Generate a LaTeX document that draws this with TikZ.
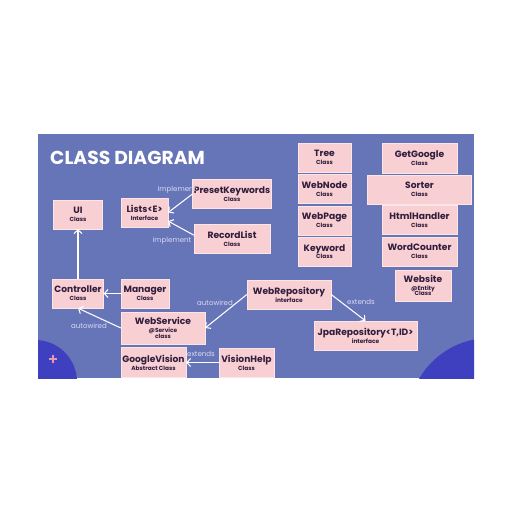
\documentclass[tikz,border=0pt]{standalone}
\usepackage{fontspec}
\setmainfont{Poppins}
\usetikzlibrary{arrows.meta,positioning}

\definecolor{slide}{RGB}{102,116,184}
\definecolor{deep}{RGB}{62,64,192}
\definecolor{boxpink}{RGB}{248,207,210}
\definecolor{ink}{RGB}{48,28,60}
\definecolor{note}{RGB}{218,220,242}
\definecolor{plusmark}{RGB}{232,150,180}
\newcommand{\subf}{\fontsize{5}{6.8}\selectfont}

\begin{document}
\begin{tikzpicture}[
  x=0.03cm, y=-0.03cm,
  font=\bfseries\fontsize{7.8}{6.6}\selectfont,
  node distance=0.06cm,
  cls/.style={fill=boxpink, draw=white!45!boxpink, line width=0.3pt, text=ink, align=center, inner sep=1pt, minimum height=0.87cm},
  lbl/.style={font=\fontsize{6}{7}\selectfont, text=note, inner sep=0pt},
  arrow/.style={-{Straight Barb[length=1.1mm,width=2.4mm]}, draw=white, line width=0.9pt}
]
\useasboundingbox (0,0) rectangle (512,512);
\fill[white] (0,0) rectangle (512,512);

% slide and corner circles
\fill[slide] (38,134) rectangle (474,378);
\begin{scope}
  \clip (38,134) rectangle (474,378);
  \fill[deep] (35,382) circle (42);
  \fill[deep] (490,420) circle (82);
\end{scope}
\draw[plusmark, line width=1pt] (49,359) -- (57,359) (53,355) -- (53,363);

\node[anchor=base west, text=white, font=\bfseries\fontsize{16}{16}\selectfont, inner sep=0pt] (title) at (50,165) {CLASS DIAGRAM};

% left part
\node[cls, minimum width=1.47cm] (ui) at (78,214.5) {UI\\\subf Class};
\node[cls, minimum width=1.41cm] (lists) at (144.5,212.5) {Lists<E>\\\subf Interface};
\node[cls, minimum width=2.28cm] (preset) at (232,194) {PresetKeywords\\\subf Class};
\node[cls, minimum width=2.28cm] (record) at (232,238.5) {RecordList\\\subf Class};
\node[cls, minimum width=1.53cm] (ctrl) at (78,293.5) {Controller\\\subf Class};
\node[cls, minimum width=1.44cm] (mgr) at (145,293.5) {Manager\\\subf Class};
\node[cls, minimum width=2.52cm, minimum height=0.96cm] (ws) at (163,328) {WebService\\\subf @Service\\[-1.8pt]\subf class};
\node[cls, minimum width=1.95cm, minimum height=0.9cm] (gv) at (153.5,362.5) {GoogleVision\\\subf Abstract Class};
\node[cls, minimum width=1.65cm] (vh) at (246.5,362.5) {VisionHelp\\\subf Class};
\node[cls, minimum width=2.52cm] (repo) at (289,294.5) {WebRepository\\\subf interface};
\node[cls, minimum width=3.09cm] (jpa) at (365.5,335.5) {JpaRepository<T,ID>\\\subf interface};

% middle column
\node[cls, minimum width=1.59cm] (tree) at (324.5,157.5) {Tree\\\subf Class};
\node[cls, minimum width=1.59cm, below=of tree] (webnode) {WebNode\\\subf Class};
\node[cls, minimum width=1.59cm, below=of webnode] (webpage) {WebPage\\\subf Class};
\node[cls, minimum width=1.59cm, below=of webpage] (keyword) {Keyword\\\subf Class};

% right column
\node[cls, minimum width=2.25cm, minimum height=0.9cm] (getgoogle) at (419.5,158) {GetGoogle\\\subf Class};
\node[cls, minimum width=3.12cm, below=0.04cm of getgoogle] (sorter) {Sorter\\\subf Class};
\node[cls, minimum width=2.25cm, below=0.04cm of sorter] (html) {HtmlHandler\\\subf Class};
\node[cls, minimum width=2.25cm, below=of html] (counter) {WordCounter\\\subf Class};
\node[cls, minimum width=1.68cm, minimum height=0.93cm] (website) at (423,285.5) {Website\\\subf @Entity\\[-1.8pt]\subf Class};

% connectors
\draw[arrow] (ctrl) -- (ui);
\draw[arrow] (mgr) -- (ctrl);
\draw[arrow] (ws.west) -- (ctrl.south);
\draw[arrow] (repo.west) -- (ws.east);
\draw[arrow] (repo.east) -- (jpa.north);
\draw[arrow] (vh) -- (gv);
\draw[arrow] (preset.west) -- (lists.east);
\draw[arrow] (record.175) -- (lists.-20);

\node[lbl] (impA) at (177,190) {implement};
\node[lbl] (impB) at (172,241) {implement};
\node[lbl] (autoA) at (89,326) {autowired};
\node[lbl] (autoB) at (215,303) {autowired};
\node[lbl] (extA) at (361,302) {extends};
\node[lbl] (extB) at (201,354) {extends};

\end{tikzpicture}
\end{document}
